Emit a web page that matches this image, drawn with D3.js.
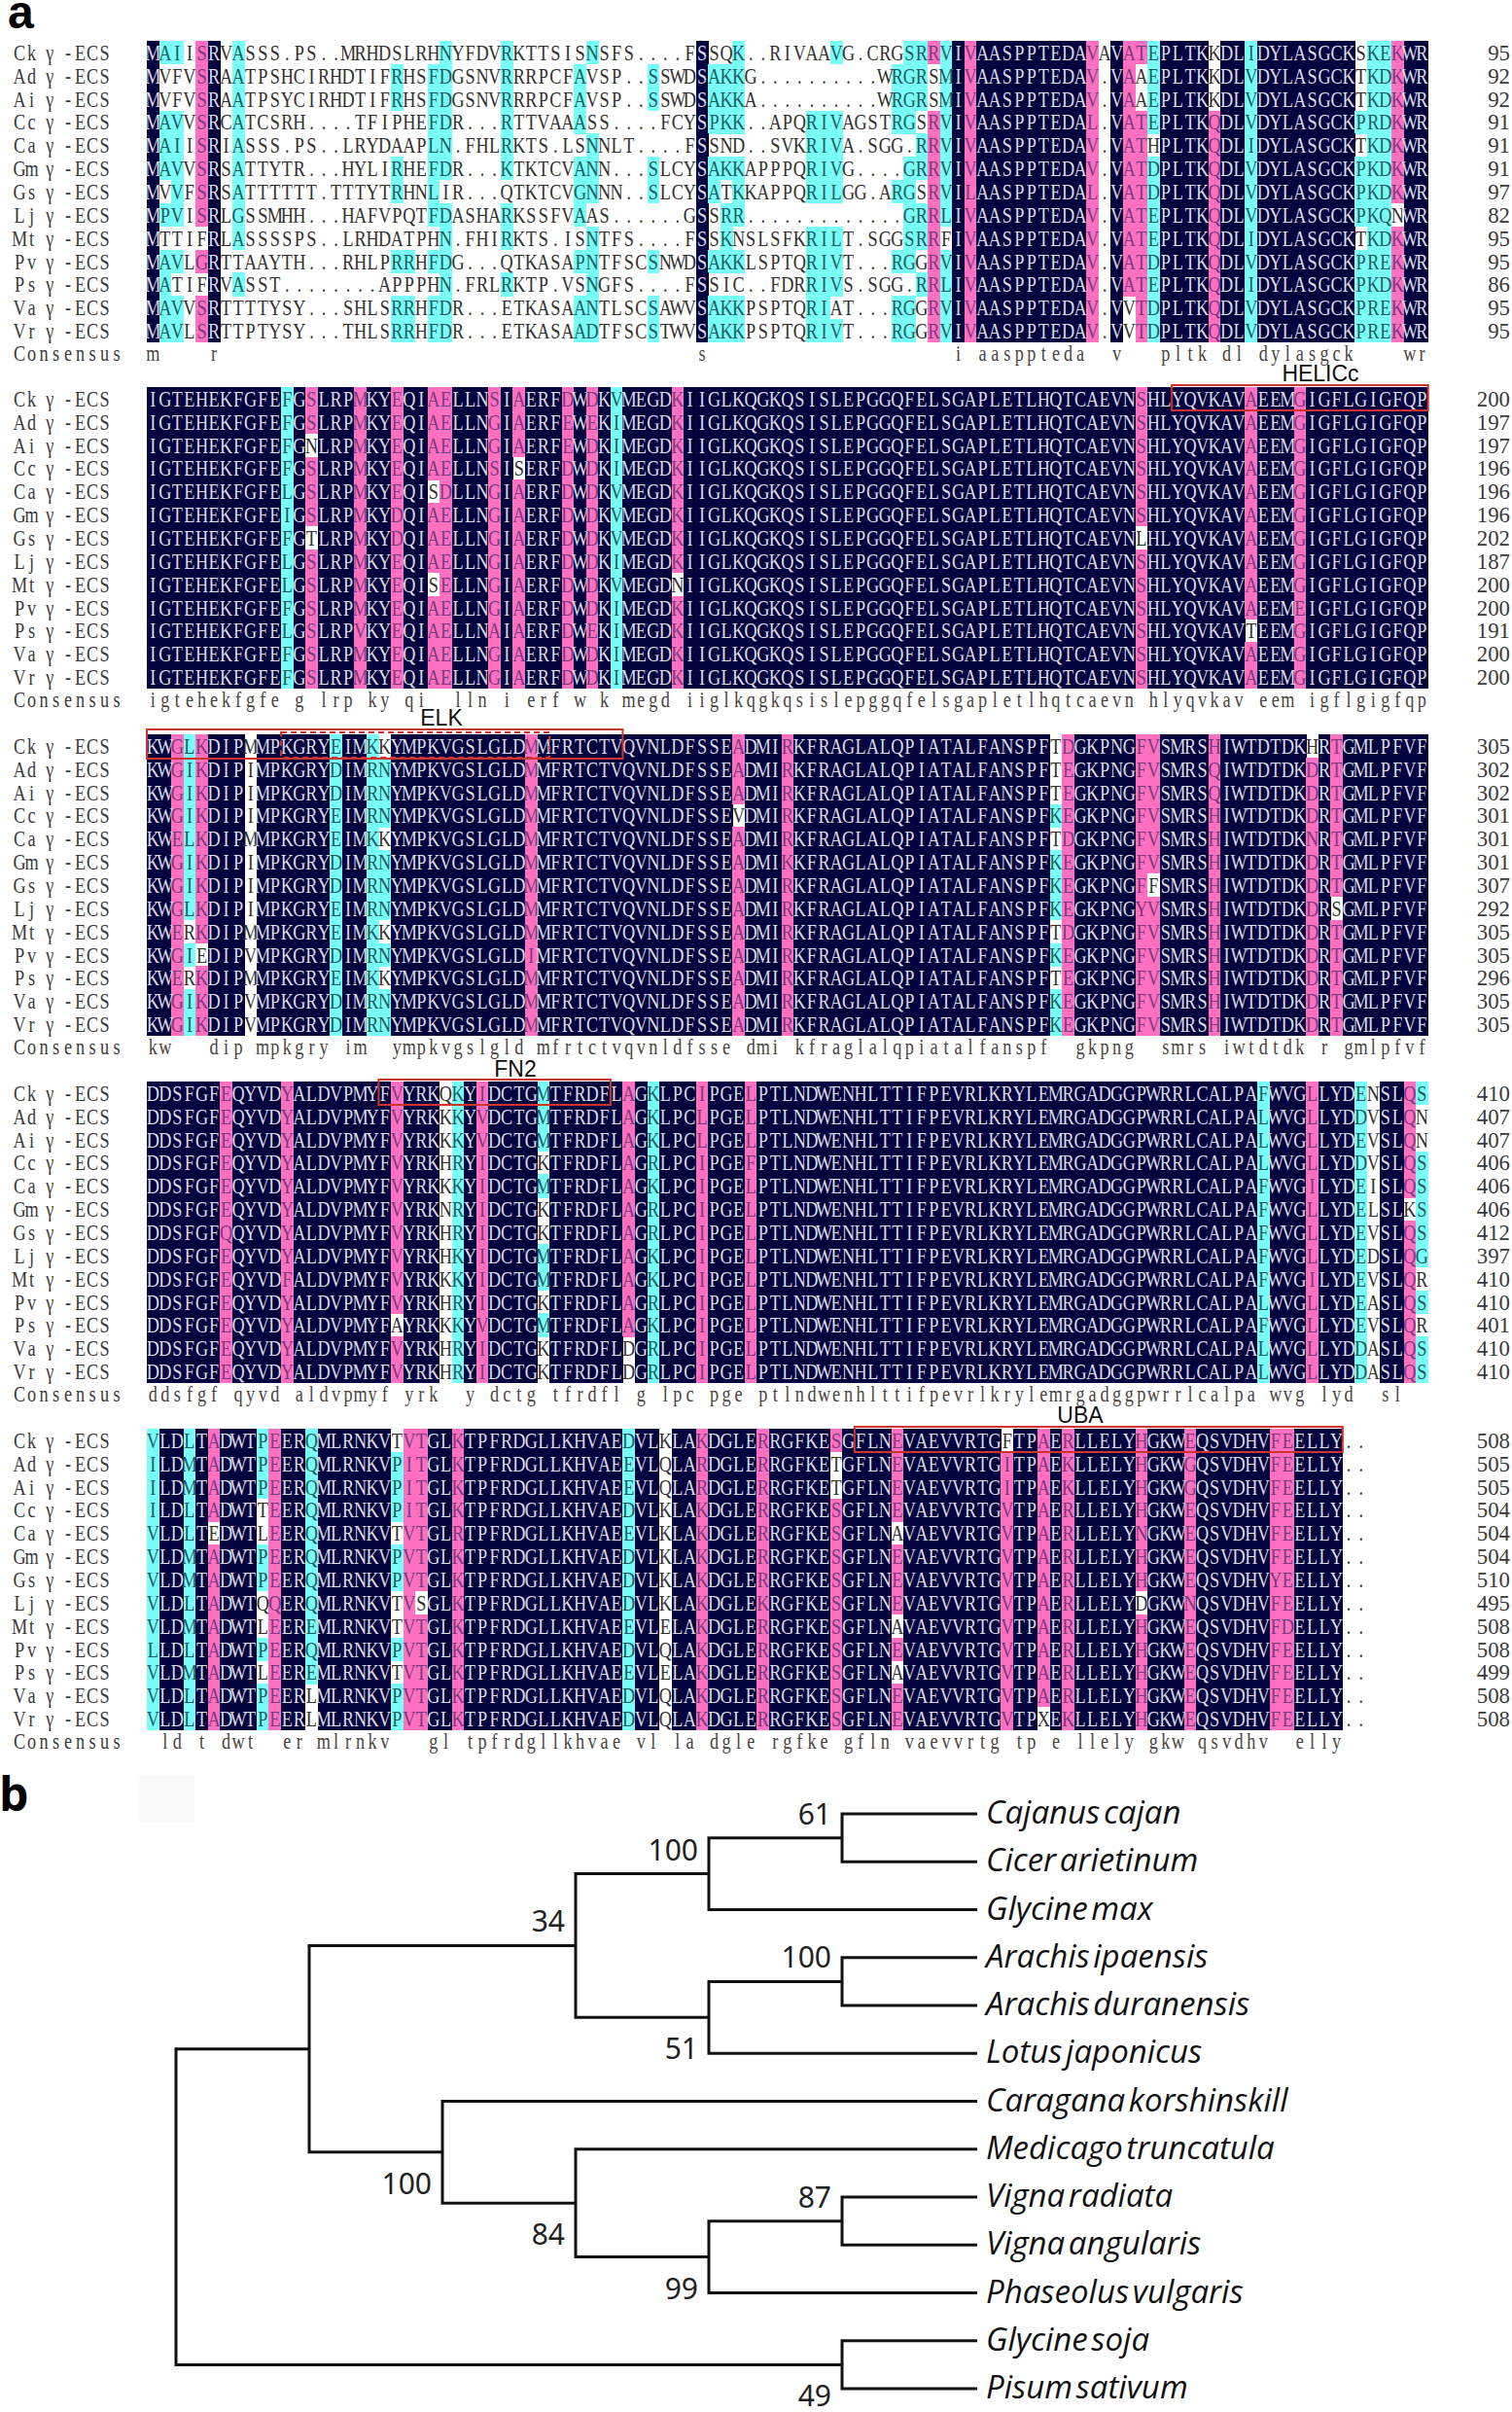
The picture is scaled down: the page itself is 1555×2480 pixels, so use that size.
<!DOCTYPE html>
<html><head><meta charset="utf-8">
<style>html,body{margin:0;padding:0;background:#fff}svg{display:block}</style>
<script src="https://cdn.jsdelivr.net/npm/d3@7"></script>
</head><body><svg id="c" width="1555" height="2480"></svg>
<script>
const seqLabels = ["Ck","Ad","Ai","Cc","Ca","Gm","Gs","Lj","Mt","Pv","Ps","Va","Vr"];
const block1 = [
"MAIISRVASSS.PS..MRHDSLRHNYFDVRKTTSISNSFS....FSSQK..RIVAAVG.CRGSRRVIVAASPPTEDAVAVATEPLTKKDLIDYLASGCKSKEKWR",
"MVFVSRAATPSHCIRHDTIFRHSFDGSNVRRRPCFAVSP..SSWDSAKKG..........WRGRSMIVAASPPTEDAV.VAAEPLTKKDLVDYLASGCKTKDKWR",
"MVFVSRAATPSYCIRHDTIFRHSFDGSNVRRRPCFAVSP..SSWDSAKKA..........WRGRSMIVAASPPTEDAV.VAAEPLTKKDLVDYLASGCKTKDKWR",
"MAVVSRCATCSRH....TFIPHEFDR...RTTVAAASS....FCYSPKK..APQRIVAGSTRGSRVIVAASPPTEDAL.VATEPLTKQDLVDYLASGCKPRDKWR",
"MAIISRIASSS.PS..LRYDAAPLN.FHLRKTS.LSNNLT....FSSND..SVKRIVA.SGG.RRVIVAASPPTEDAV.VATHPLTKQDLIDYLASGCKTKDKWR",
"MAVVSRSATTYTR...HYLIRHEFDR...KTKTCVANN...SLCYSAKKAPPPQRIVG....GRRVIVAASPPTEDAV.VATDPLTKQDLVDYLASGCKPKDKWR",
"MVVFSRSATTTTTT.TTTYTRHNLIR...QTKTCVGNNN..SLCYSATKKAPPQRILGG.ARGSRVILAASPPTEDAL.VATDPLTKQDLVDYLASGCKPKDKWR",
"MPVISRLGSSMHH...HAFVPQTFDASHARKSSFVAAS......GSSRR.............GRRLIVAASPPTEDAV.VATEPLTKQDLVDYLASGCKPKQNWR",
"MTTIFRLASSSSPS..LRHDATPHN.FHIRKTS.ISNTFS....FSSKNSLSFKRILT.SGGSRRFIVAASPPTEDAV.VATEPLTKQDLIDYLASGCKTKDKWR",
"MAVLGRTTAAYTH...RHLPRRHFDG...QTKASAPNTFSCSNWDSAKKLSPTQRIVT...RGGRVIVAASPPTEDAV.VATDPLTKQDLVDYLASGCKPREKWR",
"MATIFRVASST........APPPHN.FRLRKTP.VSNGFS....FSSIC..FDRRIVS.SGG.RRLIVAASPPTEDAV.VATEPLTKQDLIDYLASGCKPKDKWR",
"MAVVSRTTTTYSY...SHLSRRHFDR...ETKASAANTLSCSAWVSAKKPSPTQRIAT...RGGRVIVAASPPTEDAV.VVTDPLTKQDLVDYLASGCKPREKWR",
"MAVLSRTTPTYSY...THLSRRHFDR...ETKASAADTFSCSTWVSAKKPSPTQRIVT...RGGRVIVAASPPTEDAV.VVTDPLTKQDLVDYLASGCKPREKWR"];
const block2 = [
"IGTEHEKFGFEFGSLRPMKYEQIAELLNSIAERFDWDKVMEGDKIIGLKQGKQSISLEPGGQFELSGAPLETLHQTCAEVNSHLYQVKAVAEEMGIGFLGIGFQP",
"IGTEHEKFGFEFGSLRPMKYEQIAELLNGIAERFEWEKIMEGDKIIGLKQGKQSISLEPGGQFELSGAPLETLHQTCAEVNSHLYQVKAVAEEMGIGFLGIGFQP",
"IGTEHEKFGFEFGNLRPMKYEQIAELLNGIAERFEWDKIMEGDKIIGLKQGKQSISLEPGGQFELSGAPLETLHQTCAEVNSHLYQVKAVAEEMGIGFLGIGFQP",
"IGTEHEKFGFEFGSLRPMKYEQIAELLNSISERFDWDKIMEGDKIIGLKQGKQSISLEPGGQFELSGAPLETLHQTCAEVNSHLYQVKAVAEEMGIGFLGIGFQP",
"IGTEHEKFGFELGSLRPMKYEQISDLLNGIAERFDWDKVMEGDKIIGLKQGKQSISLEPGGQFELSGAPLETLHQTCAEVNSHLYQVKAVAEEMGIGFLGIGFQP",
"IGTEHEKFGFEIGSLRPMKYDQIAELLNGIAERFDWDKVMEGDKIIGLKQGKQSISLEPGGQFELSGAPLETLHQTCAEVNSHLYQVKAVAEEMGIGFLGIGFQP",
"IGTEHEKFGFEFGTLRPMKYDQIAELLNGIAERFDWDKVMEGDKIIGLKQGKQSISLEPGGQFELSGAPLETLHQTCAEVNLHLYQVKAVAEEMGIGFLGIGFQP",
"IGTEHEKFGFELGSLRPMKYEQIAELLNGIAERFDWDKIMEGDKIIGLKQGKQSISLEPGGQFELSGAPLETLHQTCAEVNSHLYQVKAVAEEMGIGFLGIGFQP",
"IGTEHEKFGFELGSLRPMKYEQISELLNGIAERFDWDKVMEGDNIIGLKQGKQSISLEPGGQFELSGAPLETLHQTCAEVNSHLYQVKAVAEEMGIGFLGIGFQP",
"IGTEHEKFGFEFGSLRPMKYEQIAELLNGIAERFDWDKIMEGDKIIGLKQGKQSISLEPGGQFELSGAPLETLHQTCAEVNSHLYQVKAVAEEMEIGFLGIGFQP",
"IGTEHEKFGFELGSLRPVKYEQIAELLNAIAERFDWEKIMEGDKIIGLKQGKQSISLEPGGQFELSGAPLETLHQTCAEVNSHLYQVKAVTEEMGIGFLGIGFQP",
"IGTEHEKFGFEFGSLRPMKYEQIAELLNGIAERFDWDKIMEGDKIIGLKQGKQSISLEPGGQFELSGAPLETLHQTCAEVNSHLYQVKAVAEEMGIGFLGIGFQP",
"IGTEHEKFGFEFGSLRPMKYEQIAELLNGIAERFDWDKIMEGDKIIGLKQGKQSISLEPGGQFELSGAPLETLHQTCAEVNSHLYQVKAVAEEMGIGFLGIGFQP"];
const block3 = [
"KWGLKDIPMMPKGRYEIMKKYMPKVGSLGLDMMFRTCTVQVNLDFSSEADMIRKFRAGLALQPIATALFANSPFTDGKPNGFVSMRSHIWTDTDKHRTGMLPFVF",
"KWGIKDIPIMPKGRYDIMRNYMPKVGSLGLDMMFRTCTVQVNLDFSSEADMIRKFRAGLALQPIATALFANSPFTEGKPNGFVSMRSQIWTDTDKDRTGMLPFVF",
"KWGIKDIPIMPKGRYDIMRNYMPKVGSLGLDMMFRTCTVQVNLDFSSEADMIRKFRAGLALQPIATALFANSPFTEGKPNGFVSMRSQIWTDTDKDRTGMLPFVF",
"KWGIKDIPIMPKGRYEIMRNYMPKVGSLGLDMMFRTCTVQVNLDFSSEVDMIRKFRAGLALQPIATALFANSPFKEGKPNGFVSMRSHIWTDTDKDRTGMLPFVF",
"KWELKDIPMMPKGRYEIMKKYMPKVGSLGLDMMFRTCTVQVNLDFSSEADMIRKFRAGLALQPIATALFANSPFTDGKPNGFVSMRSHIWTDTDKNRTGMLPFVF",
"KWGIKDIPIMPKGRYDIMRNYMPKVGSLGLDMMFRTCTVQVNLDFSSEADMIKKFRAGLALQPIATALFANSPFKEGKPNGFVSMRSHIWTDTDKDRTGMLPFVF",
"KWGIKDIPIMPKGRYDIMRNYMPKVGSLGLDMMFRTCTVQVNLDFSSEADMIRKFRAGLALQPIATALFANSPFKEGKPNGFFSMRSHIWTDTDKDRTGMLPFVF",
"KWGLKDIPIMPKGRYEIMRNYMPKVGSLGLDMMFRTCTVQVNLDFSSEADMIRKFRAGLALQPIATALFANSPFKEGKPNGYVSMRSHIWTDTDKDRSGMLPFVF",
"KWERKDIPMMPKGRYEIMKKYMPKVGSLGLDMMFRTCTVQVNLDFSSEADMIRKFRAGLALQPIATALFANSPFTDGKPNGFVSMRSHIWTDTDKDRTGMLPFVF",
"KWGIEDIPVMPKGRYDIMRNYMPKVGSLGLDIMFRTCTVQVNLDFSSEADMIRKFRAGLALQPIATALFANSPFKEGKPNGFVSMRSHIWTDTDKDRTGMLPFVF",
"KWERKDIPMMPKGRYEIMKKYMPKVGSLGLDMMFRTCTVQVNLDFSSEADMIRKFRAGLALQPIATALFANSPFTEGKPNGFVSMRSHIWTDTDKDRTGMLPFVF",
"KWGIKDIPVMPKGRYDIMRNYMPKVGSLGLDMMFRTCTVQVNLDFSSEADMIRKFRAGLALQPIATALFANSPFKEGKPNGFVSMRSHIWTDTDKDRTGMLPFVF",
"KWGIKDIPVMPKGRYDIMRNYMPKVGSLGLDMMFRTCTVQVNLDFSSEADMIRKFRAGLALQPIATALFANSPFKEGKPNGFVSMRSHIWTDTDKDRTGMLPFVF"];
const block4 = [
"DDSFGFEQYVDYALDVPMYFVYRKQKYIDCTGMTFRDFLAGKLPCIPGELPTLNDWENHLTTIFPEVRLKRYLEMRGADGGPWRRLCALPAFWVGLLYDENSLQS",
"DDSFGFEQYVDYALDVPMYFVYRKKKYVDCTGMTFRDFLAGKLPCLPGELPTLNDWENHLTTIFPEVRLKRYLEMRGADGGPWRRLCALPALWVGLLYDDVSLQN",
"DDSFGFEQYVDYALDVPMYFVYRKKKYVDCTGMTFRDFLAGKLPCLPGELPTLNDWENHLTTIFPEVRLKRYLEMRGADGGPWRRLCALPALWVGLLYDEVSLQN",
"DDSFGFEQYVDYALDVPMYFVYRKHRYIDCTGKTFRDFLAGRLPCIPGEFPTLNDWENHLTTIFPEVRLKRYLEMRGADGGPWRRLCALPALWVGLLYDDVSLQS",
"DDSFGFEQYVDYALDVPMYFVYRKKKYIDCTGMTFRDFLAGKLPCIPGELPTLNDWENHLTTIFPEVRLKRYLEMRGADGGPWRRLCALPAFWVGILYDEISLQS",
"DDSFGFEQYVDYALDVPMYFVYRKNRYIDCTGKTFRDFLAGRLPCIPGELPTLNDWENHLTTIFPEVRLKRYLEMRGADGGPWRRLCALPAFWVGLLYDELSLKS",
"DDSFGFQQYVDYALDVPMYFVYRKHRYIDCTGKTFRDFLAGRLPCIPGELPTLNDWENHLTTIFPEVRLKRYLEMRGADGGPWRRLCALPAFWVGLLYDEVSLQS",
"DDSFGFEQYVDYALDVPMYFVYRKHKYIDCTGMTFRDFLAGKLPCIPGELPTLNDWENHLTTIFPEVRLKRYLEMRGADGGPWRRLCALPAFWVGLLYDEDSLQG",
"DDSFGFEQYVDFALDVPMYFVYRKKKYIDCTGMTFRDFLAGKLPCIPGELPTLNDWENHLTTIFPEVRLKRYLEMRGADGGPWRRLCALPAFWVGILYDEVSLQR",
"DDSFGFEQYVDYALDVPMYFVYRKHRYIDCTGKTFRDFLAGRLPCIPGELPTLNDWENHLTTIFPEVRLKRYLEMRGADGGPWRRLCALPALWVGLLYDEASLQS",
"DDSFGFEQYVDYALDVPMYFAYRKKKYVDCTGMTFRDFLAGKLPCIPGELPTLNDWENHLTTIFPEVRLKRYLEMRGADGGPWRRLCALPAFWVGLLYDEVSLQR",
"DDSFGFEQYVDYALDVPMYFVYRKHRYIDCTGKTFRDFLDGRLPCIPGELPTLNDWENHLTTIFPEVRLKRYLEMRGADGGPWRRLCALPALWVGLLYDDASLQS",
"DDSFGFEQYVDYALDVPMYFVYRKHRYIDCTGKTFRDFLDGRLPCIPGELPTLNDWENHLTTIFPEVRLKRYLEMRGADGGPWRRLCALPALWVGLLYDDASLQS"];
const block5 = [
"VLDLTADWTPEERQMLRNKVTVTGLKTPFRDGLLKHVAEDVLKLAKDGLERRGFKESGFLNEVAEVVRTGFTPAERLLELYHGKWEQSVDHVFEELLY..",
"ILDMTADWTPEERQMLRNKVPITGLKTPFRDGLLKHVAEEVLQLARDGLERRGFKETGFLNEVAEVVRTGITPAEKLLELYHGKWGQSVDHVFEELLY..",
"ILDMTADWTPEERQMLRNKVPITGLKTPFRDGLLKHVAEEVLQLARDGLERRGFKETGFLNEVAEVVRTGITPAEKLLELYHGKWGQSVDHVFEELLY..",
"ILDLTADWTTEERQMLRNKVPITGLKTPFRDGLLKHVAEDVLKLAKDGLERRGFKESGFLNEVAEVVRTGVTPAERLLELYHGKWEQSVDHVFEELLY..",
"VLDLTEDWTLEERQMLRNKVTVTGLRTPFRDGLLKHVAEEVLKLAKDGLERRGFKESGFLNAVAEVVRTGVTPAERLLELYNGKWEQSVDHVFEELLY..",
"VLDMTADWTPEERQMLRNKVPVTGLKTPFRDGLLKHVAEDVLKLAKDGLERRGFKESGFLNEVAEVVRTGVTPAERLLELYHGKWEQSVDHVFEELLY..",
"VLDMTADWTPEERQMLRNKVPVTGLKTPFRDGLLKHVAEDVLKLAKDGLERRGFKESGFLNEVAEVVRTGVTPAERLLELYHGKWEQSVDHVYEELLY..",
"VLDLTADWTQQERQMLRNKVTVSGLKTPFRDGLLKHVAEDVLKLAKDGLEKRGFKESGFLNEVAEVVRTGVTPAERLLELYDGKWNQSVDHVFEELLY..",
"VLDMTADWTLEEREMLRNKVTVTGLKTPFRDGLLKHVAEEVLELAKDGLERRGFKESGFLNAVAEVVRTGVTPAERLLELYHGKWEQSVDHVFDELLY..",
"LLDLTADWTPEERQMLRNKVPVTGLKTPFRDGLLKHVAEDVLQLAKDGLERRGFKESGFLNEVAEVVRTGVTPAERLLELYHGKWEQSVDHVFEELLY..",
"VLDMTADWTLEEREMLRNKVTVTGLKTPFRDGLLKHVAEEVLELAKDGLERRGFKESGFLNAVAEVVRTGVTPAERLLELYHGKWEQSVDHVFEELLY..",
"VLDLTADWTPEERLMLRNKVPVTGLKTPFRDGLLKHVAEDVLQLAKDGLERRGFKESGFLNEVAEVVRTGVTPAERLLELYHGKWEQSVDHVFEELLY..",
"VLDLTADWTPEERLMLRNKVPVTGLKTPFRDGLLKHVAEDVLQLAKDGLERRGFKESGFLNEVAEVVRTGVTPXEKLLELYHGKWEQSVDHVFEELLY.."];

const ends1 = [95,92,92,91,91,91,97,82,95,95,86,95,95];
const ends2 = [200,197,197,196,196,196,202,187,200,200,191,200,200];
const ends3 = [305,302,302,301,301,301,307,292,305,305,296,305,305];
const ends4 = [410,407,407,406,406,406,412,397,410,410,401,410,410];
const ends5 = [508,505,505,504,504,504,510,495,508,508,499,508,508];

// residues of each column (1-based) that fall in the high / medium homology class
const high1 = {5:"SG",65:"R",68:"VL",78:"VL",81:"A",82:"T",88:"Q",103:"K"};
const mid1  = {2:"AP",3:"IV",8:"AG",21:"R",22:"R",24:"FL",25:"DN",30:"RK",36:"AGP",37:"ND",42:"S",47:"AP",48:"KR",49:"KR",55:"R",56:"I",57:"VL",62:"R",63:"GS",64:"R",66:"VLM",83:"ED",91:"IV",100:"P",101:"KR",102:"EDQ"};
const high2 = {14:"S",18:"MV",21:"ED",24:"A",25:"ED",29:"SGA",31:"A",35:"DE",37:"DE",44:"K",82:"S",91:"A",95:"GE"};
const mid2  = {12:"FLI",39:"VI"};
const high3 = {3:"GE",5:"K",32:"MI",49:"A",53:"RK",76:"DE",82:"FY",83:"V",88:"HQ",96:"DN",98:"T"};
const mid3  = {4:"LI",16:"ED",19:"KR",20:"N",75:"K"};
const high4 = {7:"EQ",12:"YF",21:"V",28:"IV",40:"A",46:"IL",50:"LF",96:"LI",104:"Q"};
const mid4  = {26:"KR",33:"M",42:"KR",92:"FL",100:"ED",105:"SG"};
const high5 = {6:"A",11:"EQ",22:"VI",23:"T",26:"KR",46:"KR",51:"RK",57:"S",62:"E",71:"IV",74:"A",76:"RK",82:"HN",86:"EGN",93:"FY",94:"ED"};
const mid5  = {1:"VIL",4:"LM",10:"P",14:"QE",21:"P",40:"DE"};

const blockTops = [42,398,755,1112,1469];
const blocks = [
 {rows:block1,ends:ends1,high:high1,mid:mid1},
 {rows:block2,ends:ends2,high:high2,mid:mid2},
 {rows:block3,ends:ends3,high:high3,mid:mid3},
 {rows:block4,ends:ends4,high:high4,mid:mid4},
 {rows:block5,ends:ends5,high:high5,mid:mid5}];

const domainNames = ["HELICc","ELK","ELK-inner","FN2","UBA"];
const domainBlocks = [1,2,2,3,4];
const domainFrom = [85,1,12,20,59];
const domainTo = [105,39,33,38,98];

const bg = {n:"#02023f",h:"#ff70c0",m:"#78fff8",w:"#ffffff"};
const fg = {n:"#dcdce4",h:"#7a3a80",m:"#1f5a62",w:"#33302e"};
const SX = 0.76, FS = 24, BASE = 8;

const svg = d3.select("#c").style("background","#fff");
const x = d3.scaleLinear().domain([0,105]).range([151,1468.7]);
const rowY = d3.scaleBand().domain(d3.range(13)).range([0,310]);

blocks.forEach((b,bi)=>{
  const g = svg.append("g").attr("transform",`translate(0,${blockTops[bi]})`);
  const n = b.rows[0].length;
  b.rows.forEach(r=>{ if(r.length!==n) throw new Error("len block "+bi+" "+r.length+" "+r); });
  const cons = d3.range(n).map(c=>{
    const set = new Set(b.rows.map(r=>r[c]));
    return set.size===1 && !set.has(".") ? b.rows[0][c] : null;
  });
  const shade = (ch,c)=> cons[c] ? "n" : (b.high[c+1]||"").includes(ch) ? "h" : (b.mid[c+1]||"").includes(ch) ? "m" : "w";
  const cells = [];
  b.rows.forEach((r,ri)=>{ for(let c=0;c<n;c++) cells.push({ri,c,s:shade(r[c],c)}); });
  g.append("g").attr("shape-rendering","crispEdges").selectAll("rect")
    .data(cells.filter(d=>d.s!=="w")).join("rect")
    .attr("x",d=>x(d.c)).attr("y",d=>rowY(d.ri))
    .attr("width",x(1)-x(0)+0.3).attr("height",rowY.bandwidth()+0.3)
    .attr("fill",d=>bg[d.s]);

  const t = g.append("g").attr("font-family","'Liberation Serif',serif").attr("font-size",FS)
     .attr("text-anchor","middle");
  const rowTexts = t.selectAll("text.row").data(b.rows).join("text").attr("class","row")
     .attr("transform",(r,ri)=>`translate(0,${rowY(ri)+rowY.bandwidth()/2+BASE}) scale(${SX},1)`);
  rowTexts.selectAll("tspan").data(r=>r.split("").map((ch,c)=>({ch,c}))).join("tspan")
     .attr("x",d=>(x(d.c)+x(1)/2-x(0)/2)/SX).attr("fill",d=>fg[shade(d.ch,d.c)]).text(d=>d.ch);

  // consensus line
  t.append("text").attr("class","cons")
    .attr("transform",`translate(0,329) scale(${SX},1)`)
    .selectAll("tspan").data(cons.map((ch,c)=>({ch,c})).filter(d=>d.ch)).join("tspan")
    .attr("x",d=>(x(d.c)+x(1)/2-x(0)/2)/SX).attr("fill","#4a4440").text(d=>d.ch.toLowerCase());

  // row names
  const nameOff = [0,1,2.5,4,5,6,7];
  const lab = g.append("g").attr("font-family","'Liberation Serif',serif").attr("font-size",FS).attr("fill","#3a3a3a").attr("text-anchor","middle");
  seqLabels.forEach((s,ri)=>{
    const chars = (s+"γ-ECS").split("");
    const tx = lab.append("text").attr("transform",`translate(0,${rowY(ri)+rowY.bandwidth()/2+BASE}) scale(${SX},1)`);
    chars.forEach((ch,k)=>tx.append("tspan").attr("x",(20+12.5*nameOff[k])/SX).text(ch));
  });
  const cl = lab.append("text").attr("transform",`translate(0,329) scale(${SX},1)`);
  "Consensus".split("").forEach((ch,k)=>cl.append("tspan").attr("x",(20+12.5*k)/SX).text(ch));

  // row end numbers
  g.append("g").attr("font-family","'Liberation Serif',serif").attr("font-size",FS).attr("fill","#3a3a3a").attr("text-anchor","end")
    .selectAll("text").data(b.ends).join("text")
    .attr("transform",(v,ri)=>`translate(1553,${rowY(ri)+rowY.bandwidth()/2+BASE}) scale(0.95,1)`).text(d=>d);
});

// domain boxes
domainNames.forEach((name,i)=>{
  const top = blockTops[domainBlocks[i]];
  const inner = name==="ELK-inner";
  const yy = domainBlocks[i]===2 ? (inner? top-2 : top-5) : top-2;
  const h = domainBlocks[i]===2 ? (inner? 26 : 30) : 26;
  svg.append("rect").attr("x",x(domainFrom[i]-1)).attr("y",yy).attr("width",x(domainTo[i])-x(domainFrom[i]-1)).attr("height",h)
     .attr("fill","none").attr("stroke","#d0322e").attr("stroke-width",2)
     .attr("stroke-dasharray",inner?"6 4":null);
});
const domainLabelText = ["HELICc","ELK","FN2","UBA"];
const domainLabelX = [1358,454,530,1111];
const domainLabelY = [392,746,1107,1463];
svg.append("g").attr("font-family","'Liberation Sans',sans-serif").attr("font-size",23).attr("fill","#111").attr("text-anchor","middle")
  .selectAll("text").data(domainLabelText).join("text")
  .attr("x",(d,i)=>domainLabelX[i]).attr("y",(d,i)=>domainLabelY[i]).text(d=>d);

// panel letters
svg.append("text").attr("x",8).attr("y",29).attr("font-family","'Liberation Sans',sans-serif").attr("font-weight",700).attr("font-size",48).attr("fill","#000").text("a");
svg.append("text").attr("x",-1).attr("y",1862).attr("font-family","'Open Sans',sans-serif").attr("font-weight",700).attr("font-size",48).attr("fill","#000").text("b");
svg.append("rect").attr("x",143).attr("y",1825).attr("width",57).attr("height",49).attr("fill","#fafafb");

// tree
const nodeId = ["root","A","B","B1","n61","Cajanus cajan","Cicer arietinum","Glycine max","B2","n100","Arachis ipaensis","Arachis duranensis","Lotus japonicus","C","Caragana korshinskill","D","Medicago truncatula","E","n87","Vigna radiata","Vigna angularis","Phaseolus vulgaris","n49","Glycine soja","Pisum sativum"];
const nodeParent = [null,"root","A","B","B1","n61","n61","B1","B","B2","n100","n100","B2","A","C","C","D","D","E","n87","n87","E","root","n49","n49"];
const nodeLevel = [0,1,3,4,5,6,6,6,4,5,6,6,6,2,6,3,6,4,5,6,6,6,5,6,6];
const supportNode = ["n61","B1","B","n100","B2","C","D","E","n87","n49"];
const supportValue = [61,100,34,100,51,100,84,99,87,49];
const supportBelow = [0,0,0,0,1,1,1,1,0,1];

const root = d3.stratify().id(d=>d.id).parentId(d=>d.p)(nodeId.map((id,i)=>({id,p:nodeParent[i],lv:nodeLevel[i]})));
const tx = d3.scaleLinear().domain([0,5]).range([181,866]);
const leafX = 1005;
const px = n => n.children ? tx(n.data.lv) : leafX;
const ty = d3.scaleLinear().domain([0,12]).range([1865,2456]);
let li = 0;
root.eachAfter(n=>{ n.yy = n.children ? (n.children[0].yy+n.children[n.children.length-1].yy)/2 : ty(li++); });
const link = root.links().map(l=>`M${px(l.source)},${l.source.yy}V${l.target.yy}H${px(l.target)}`).join("");
svg.append("path").attr("d",link).attr("fill","none").attr("stroke","#111").attr("stroke-width",3).attr("stroke-linejoin","miter");
const tg = svg.append("g");
tg.selectAll("text.leaf").data(root.leaves()).join("text").attr("class","leaf")
  .attr("x",1014).attr("y",d=>d.yy+10)
  .attr("font-family","'Open Sans',sans-serif").attr("font-style","italic").attr("font-size",33)
  .attr("word-spacing",-5)
  .attr("fill","#111").text(d=>d.id);
const byId = new Map(root.descendants().map(n=>[n.id,n]));
tg.selectAll("text.sup").data(supportNode).join("text").attr("class","sup")
  .attr("text-anchor","end").attr("font-family","'Noto Sans',sans-serif").attr("font-size",30).attr("fill","#222")
  .attr("x",d=>px(byId.get(d))-11)
  .attr("y",(d,i)=>byId.get(d).yy+(supportBelow[i]?43:-14)).text((d,i)=>supportValue[i]);
</script></body></html>
